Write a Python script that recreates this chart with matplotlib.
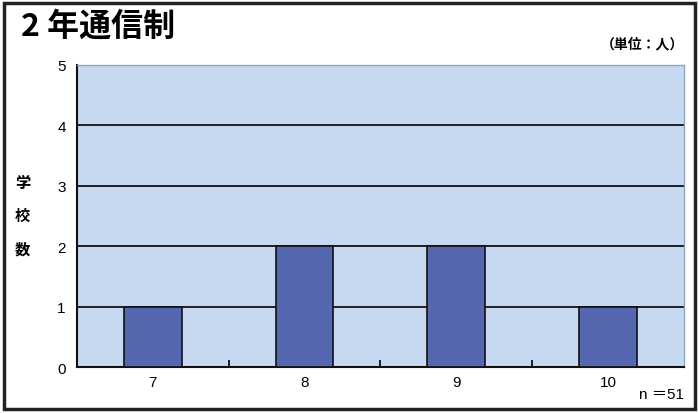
import matplotlib.pyplot as plt
from matplotlib.patches import Rectangle

plt.rcParams['font.family'] = ['Noto Sans CJK JP', 'DejaVu Sans']

# data
categories = ['7', '8', '9', '10']
values = [1, 2, 2, 1]

fig = plt.figure(figsize=(6.99, 4.14), dpi=100)
fig.patch.set_facecolor('white')

# outer frame
fig.patches.append(Rectangle((0.006, 0.01), 0.988, 0.98, transform=fig.transFigure,
                             fill=False, edgecolor='#222222', linewidth=2.5))

ax = fig.add_axes([0.110, 0.111, 0.8685, 0.7296])
ax.set_facecolor('#c6d9f1')

x = range(len(categories))
ax.bar(x, values, width=0.38, color='#5467b0', edgecolor='#111111', linewidth=1.2, zorder=3)

ax.set_ylim(0, 5)
ax.set_xlim(-0.5, len(categories) - 0.5)
ax.set_yticks([0, 1, 2, 3, 4, 5])
ax.set_xticks(list(x))
ax.set_xticklabels(categories)
ax.set_xticks([0.5, 1.5, 2.5], minor=True)
ax.tick_params(axis='x', which='major', length=0, labelsize=11, pad=6)
ax.tick_params(axis='x', which='minor', direction='in', length=5, width=1.2)
ax.tick_params(axis='y', length=0, labelsize=11, pad=8)
for lab in ax.get_xticklabels() + ax.get_yticklabels():
    lab.set_family(['Liberation Sans', 'DejaVu Sans'])
ax.yaxis.grid(True, color='#111111', linewidth=1.3, zorder=1)
ax.set_axisbelow(True)

for s in ['left', 'bottom']:
    ax.spines[s].set_color('#111111')
    ax.spines[s].set_linewidth(1.5)
for s in ['top', 'right']:
    ax.spines[s].set_color('#8fa6c8')
    ax.spines[s].set_linewidth(1.0)

fig.text(0.03, 0.935, '2 年通信制', fontsize=23, fontweight='bold', va='center', ha='left')
fig.text(0.978, 0.893, '（単位：人）', fontsize=10, fontweight='bold', va='center', ha='right')
for i, ch in enumerate('学校数'):
    fig.text(0.032, 0.558 - i * 0.08, ch, fontsize=11, fontweight='bold', ha='center', va='center')
fig.text(0.978, 0.045, 'n ＝51', fontsize=11, ha='right', va='center',
         family=['Liberation Sans', 'Noto Sans CJK JP'])

fig.savefig('out.png', dpi=100)
